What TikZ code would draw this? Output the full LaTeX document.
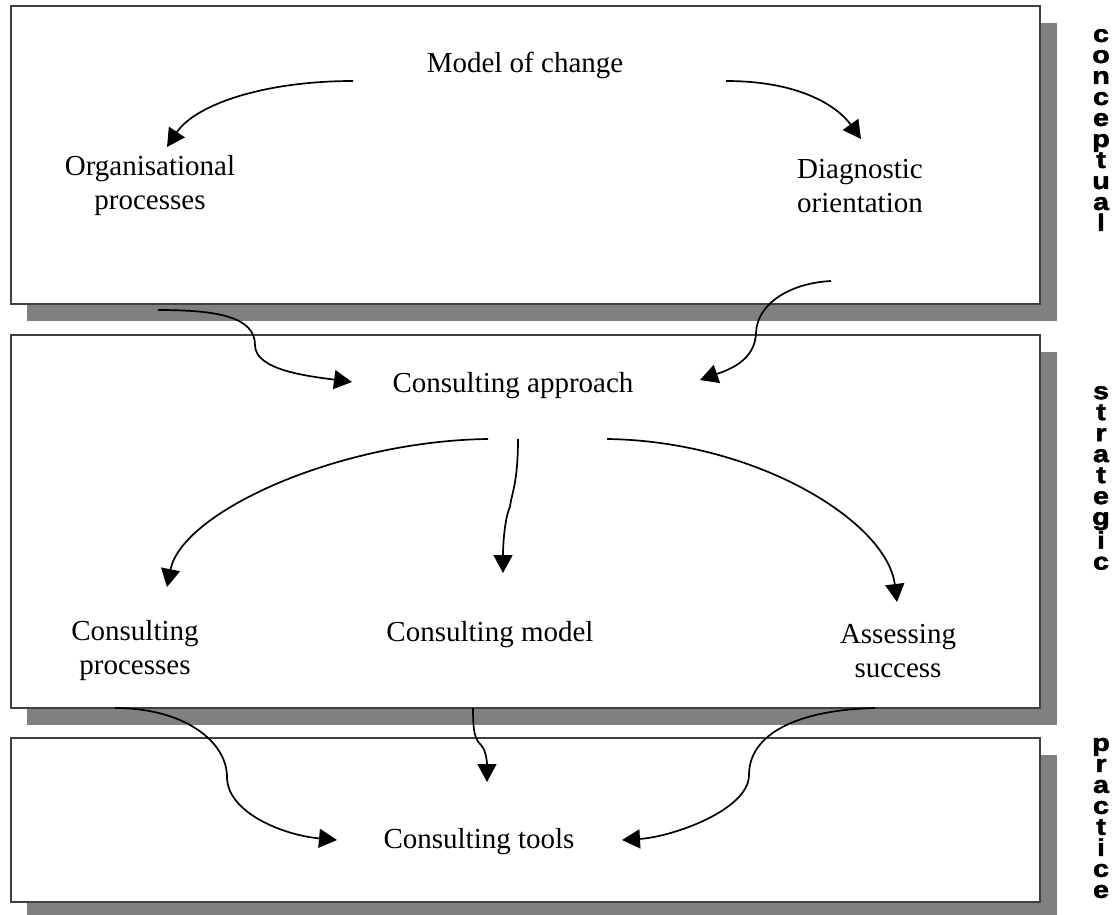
\documentclass[tikz,border=0pt]{standalone}
\usepackage{fontspec}
\setmainfont{Liberation Serif}
\newfontfamily\sidefont[FakeStretch=1.2,FakeBold=2]{Liberation Sans}
\usetikzlibrary{arrows.meta}

\begin{document}
\begin{tikzpicture}[x=1pt,y=-1pt,
    level/.style={draw=black!75,line width=1.2pt,fill=white},
    shade/.style={fill=black!50},
    link/.style={line width=1.7pt,-{Triangle[length=18pt,width=19pt]}},
    lbl/.style={font=\fontsize{29}{34}\selectfont,align=center,inner sep=0pt},
    side/.style={font=\fontsize{24}{21}\selectfont\sidefont\bfseries,align=center,inner sep=0pt}]
        \useasboundingbox (0,0) rectangle (1117,915);
        \foreach \ya/\yb in {6/304,335/708,738/902} {
          \fill[shade] (27,\ya+17) rectangle (1057,\yb+17);
          \draw[level] (11,\ya) rectangle (1040,\yb);
        }
        \node[lbl,anchor=base] (change) at (525,73) {Model of change};
        \node[lbl] (orgproc) at (150,186) {Organisational\\processes};
        \node[lbl] (diagnose) at (860,186) {Diagnostic\\orientation};
        \node[lbl,anchor=base] (approach) at (513,392) {Consulting approach};
        \node[lbl] (cproc) at (135,651) {Consulting\\processes};
        \node[lbl,anchor=base] (cmodel) at (490,641) {Consulting model};
        \node[lbl] (success) at (898,651) {Assessing\\success};
        \node[lbl,anchor=base] (tools) at (479,848) {Consulting tools};
        \node[side] (conceptual) at (1101,130) {c\\o\\n\\c\\e\\p\\t\\u\\a\\l};
        \node[side] (strategic) at (1101,478) {s\\t\\r\\a\\t\\e\\g\\i\\c};
        \node[side] (practice) at (1101,818) {p\\r\\a\\c\\t\\i\\c\\e};
        \coordinate (change-l) at (353,81);
        \coordinate (change-r) at (726,81);
        \coordinate (orgproc-in) at (167,147);
        \coordinate (diagnose-in) at (861,139);
        \coordinate (orgproc-out) at (158,310);
        \coordinate (diagnose-out) at (831,281);
        \coordinate (approach-l) at (352,382);
        \coordinate (approach-r) at (700,380);
        \coordinate (approach-sl) at (488,439);
        \coordinate (approach-s) at (518,439);
        \coordinate (approach-sr) at (607,439);
        \coordinate (cproc-in) at (167,587);
        \coordinate (cmodel-in) at (503,573);
        \coordinate (success-in) at (897,602);
        \coordinate (cproc-out) at (115,708);
        \coordinate (cmodel-out) at (473,708);
        \coordinate (success-out) at (875,708);
        \coordinate (tools-l) at (337,840);
        \coordinate (tools-n) at (487,782);
        \coordinate (tools-r) at (622,840);
        \draw[link] (change-l) .. controls +(-90,0) and +(28,-42) .. (orgproc-in);
        \draw[link] (change-r) .. controls +(75,0) and +(-23,-32) .. (diagnose-in);
        \draw[link] (orgproc-out) .. controls +(60,0) and +(0,-28) .. ++(97,35)
          .. controls +(0,25) and +(-45,-6) .. (approach-l);
        \draw[link] (diagnose-out) .. controls +(-40,2) and +(1,-30) .. ++(-75,52)
          .. controls +(-1,28) and +(28,-10) .. (approach-r);
        \draw[link] (approach-sl) .. controls +(-150,2) and +(15,-75) .. (cproc-in);
        \draw[link] (approach-s) .. controls +(0,45) and +(1,-12) .. ++(-8,68)
          .. controls +(-5,10) and +(0,-30) .. (cmodel-in);
        \draw[link] (approach-sr) .. controls +(150,2) and +(-10,-80) .. (success-in);
        \draw[link] (cproc-out) .. controls +(70,0) and +(0,-35) .. ++(112,69)
          .. controls +(0,35) and +(-55,-5) .. (tools-l);
        \draw[link] (cmodel-out) .. controls +(0,25) and +(-6,-6) .. ++(8,37)
          .. controls +(5,5) and +(0,-20) .. (tools-n);
        \draw[link] (success-out) .. controls +(-80,2) and +(0,-40) .. ++(-126,67)
          .. controls +(0,35) and +(50,-3) .. (tools-r);
      \end{tikzpicture}
\end{document}
